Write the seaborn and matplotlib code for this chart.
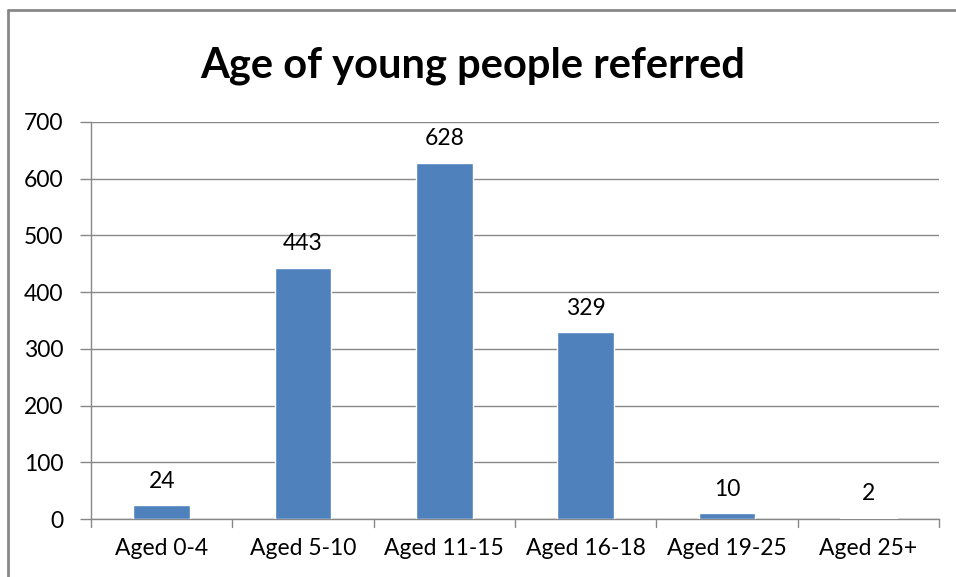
import numpy as np
import matplotlib
matplotlib.use("Agg")
import matplotlib.pyplot as plt
import seaborn as sns
from matplotlib.lines import Line2D

# Chart data
categories = ["Aged 0-4", "Aged 5-10", "Aged 11-15",
              "Aged 16-18", "Aged 19-25", "Aged 25+"]
referrals = [24, 443, 628, 329, 10, 2]
y_ticks = [0, 100, 200, 300, 400, 500, 600, 700]

sns.set_style("white")
plt.rcParams['font.family'] = ['Lato', 'DejaVu Sans']

fig = plt.figure(figsize=(9.56, 5.77), dpi=100)
ax = fig.add_axes([91 / 956, 1 - 519 / 577, 848 / 956, 397 / 577])

sns.barplot(x=categories, y=referrals, color="#4F81BD",
            saturation=1, width=0.4, ax=ax, zorder=3)

# Value labels above bars
for i, v in enumerate(referrals):
    ax.text(i, v + 24, str(v), ha='center', va='bottom', fontsize=16.5,
            color='black')

ax.set_ylim(0, 700)
ax.set_xlim(-0.5, len(categories) - 0.5)
ax.set_yticks(y_ticks)
ax.set_yticklabels([str(t) for t in y_ticks], fontsize=16.5)
ax.tick_params(axis='x', labelsize=16.5, length=0, pad=14, labelcolor='black')
ax.tick_params(axis='y', length=8, width=1, color='#888888',
               direction='out', pad=12, left=True, labelcolor='black')
ax.grid(axis='y', color='#888888', linewidth=1, zorder=0)
ax.set_xlabel('')
ax.set_ylabel('')

for side in ['top', 'right']:
    ax.spines[side].set_visible(False)
for side in ['left', 'bottom']:
    ax.spines[side].set_color('#888888')
    ax.spines[side].set_linewidth(1)

# Category separator ticks below the x-axis
for b in np.arange(-0.5, len(categories), 1.0):
    ax.plot([b, b], [0, -0.02], transform=ax.get_xaxis_transform(),
            color='#888888', linewidth=1, clip_on=False)

fig.text(473 / 956, 1 - 66 / 577, "Age of young people referred",
         ha='center', va='center', fontsize=30, fontweight='bold',
         color='black')

# Outer chart frame (top and left edges visible)
fig.add_artist(Line2D([8 / 956, 1], [1 - 10 / 577, 1 - 10 / 577],
                      transform=fig.transFigure, color='#888888', linewidth=2))
fig.add_artist(Line2D([8 / 956, 8 / 956], [0, 1 - 10 / 577],
                      transform=fig.transFigure, color='#888888', linewidth=2))

fig.savefig("out.png", dpi=100)
